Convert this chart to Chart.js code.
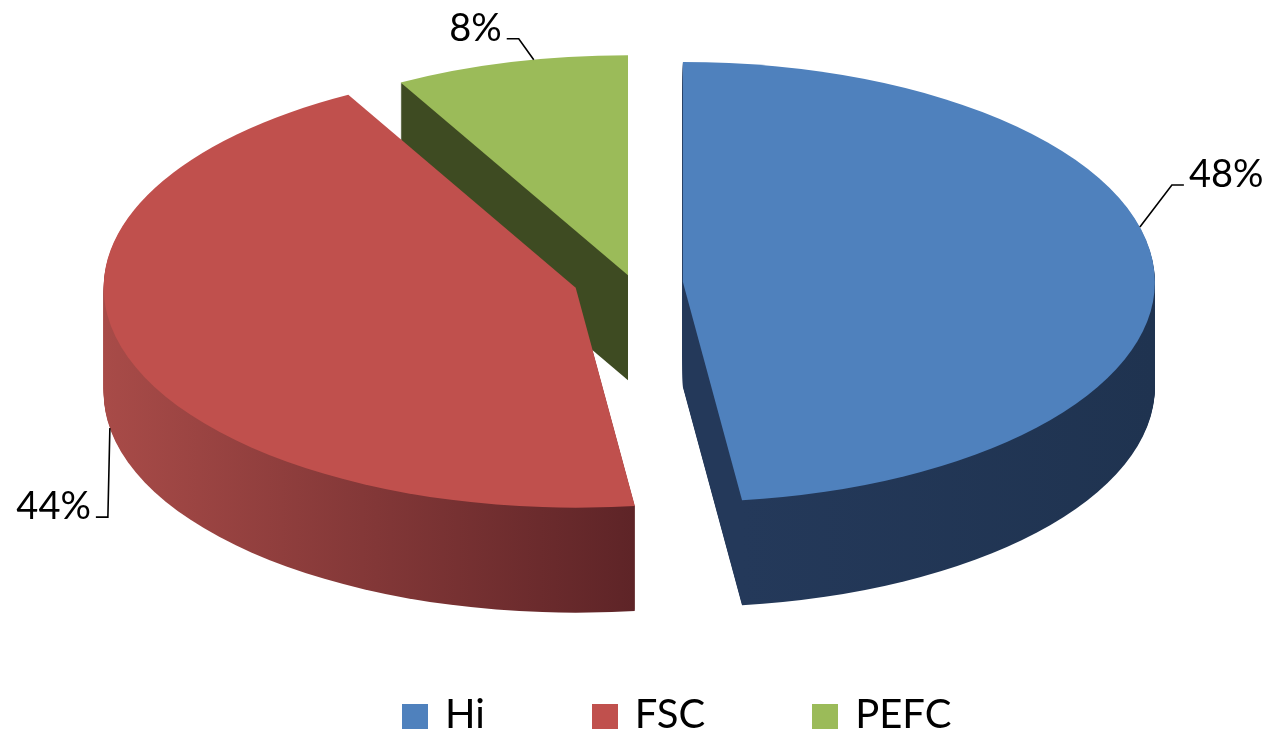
<!DOCTYPE html>
<html>
<head>
<meta charset="utf-8">
<title>Hi / FSC / PEFC</title>
<script src="https://cdn.jsdelivr.net/npm/chart.js@4.4.1/dist/chart.umd.min.js"></script>
<style>
  html, body { margin: 0; padding: 0; background: #fff; }
  #wrap { position: relative; width: 1269px; height: 733px; overflow: hidden; }
  #pieChart { position: absolute; left: 0; top: 0; }
  #legend {
    position: absolute;
    left: 402px;
    top: 689px;
    display: flex;
    align-items: center;
    font-family: Lato, "Open Sans", sans-serif;
    font-size: 40px;
    line-height: 48px;
    color: #000;
  }
  #legend .item { display: flex; align-items: center; margin-right: 107px; }
  #legend .box { width: 26px; height: 25px; margin-right: 17px; position: relative; top: 3px; }
</style>
</head>
<body>
<div id="wrap">
  <canvas id="pieChart" width="1269" height="733"></canvas>
  <div id="legend"></div>
</div>
<script>
const categories = ["Hi", "FSC", "PEFC"];
const shares = [48, 44, 8];

const topColors = ["#4f81bd", "#c0504d", "#9bbb59"];
const sideColors = [
  ["#24395a", "#1f3350"],
  ["#a84b48", "#5e2427"],
  ["#3e4b22", "#3e4b22"],
];

const $ = (id) => document.getElementById(id);

// pie drawn as a tilted, exploded 3D disc from the arc geometry chart.js computes
const pie3d = {
  id: "pie3d",
  beforeDatasetsDraw(chart, args, opts) {
    const arcs = chart.getDatasetMeta(0).data;
    if (!arcs.length) return false;
    const ctx = chart.ctx;
    const R = arcs[0].outerRadius;
    const rx = R * opts.scaleX;
    const ry = R * opts.scaleY;

    const faces = arcs.map((arc, i) => {
      const mid = (arc.startAngle + arc.endAngle) / 2;
      return {
        i,
        start: arc.startAngle,
        end: arc.endAngle,
        cx: arc.x + Math.cos(mid) * opts.explodeX[i],
        cy: arc.y + Math.sin(mid) * opts.explodeY[i],
      };
    });
    chart.$faces = { faces, rx, ry };

    const slicePath = (f, dy) => {
      ctx.beginPath();
      ctx.moveTo(f.cx, f.cy + dy);
      ctx.ellipse(f.cx, f.cy + dy, rx, ry, 0, f.start, f.end);
      ctx.closePath();
    };

    ctx.save();
    // side walls first
    faces.forEach((f) => {
      // x range of the front (visible) part of the rim
      const a0 = Math.max(f.start, 0);
      const a1 = Math.min(f.end, Math.PI);
      let x0 = f.cx, x1 = f.cx + 1;
      if (a1 > a0) {
        const xs = [Math.cos(a0), Math.cos(a1)];
        x0 = f.cx + rx * Math.min(...xs);
        x1 = f.cx + rx * Math.max(...xs);
      }
      const grad = ctx.createLinearGradient(x0, 0, x1, 0);
      grad.addColorStop(0, sideColors[f.i][0]);
      grad.addColorStop(1, sideColors[f.i][1]);
      ctx.fillStyle = grad;
      for (let dy = opts.depth; dy >= 1; dy--) {
        slicePath(f, dy);
        ctx.fill();
      }
    });
    // top faces
    faces.forEach((f) => {
      slicePath(f, 0);
      ctx.fillStyle = topColors[f.i];
      ctx.fill();
    });
    ctx.restore();
    return false;
  },
  afterDraw(chart, args, opts) {
    if (!chart.$faces) return;
    const { faces, rx, ry } = chart.$faces;
    const ctx = chart.ctx;
    ctx.save();
    ctx.strokeStyle = "#000";
    ctx.lineWidth = 1.6;
    ctx.fillStyle = "#000";
    ctx.font = opts.font;
    ctx.textBaseline = "alphabetic";
    faces.forEach((f) => {
      const lead = opts.leaders[f.i];
      const a = f.start + (f.end - f.start) * lead.frac;
      const ax = f.cx + rx * Math.cos(a);
      const ay = f.cy + ry * Math.sin(a) + opts.depth * lead.drop;
      const ex = ax + lead.dx;
      const ey = ay + lead.dy;
      const dir = ex > f.cx ? 1 : -1;
      const tx = ex + dir * 12;
      ctx.beginPath();
      ctx.moveTo(ax, ay);
      ctx.lineTo(ex, ey);
      ctx.lineTo(tx, ey);
      ctx.stroke();
      ctx.textAlign = dir > 0 ? "left" : "right";
      ctx.fillText(shares[f.i] + "%", tx + dir * 5, ey + 2);
    });
    ctx.restore();
  },
};

function buildLegend() {
  const box = $("legend");
  box.innerHTML = "";
  categories.forEach((name, i) => {
    const item = document.createElement("div");
    item.className = "item";
    const swatch = document.createElement("span");
    swatch.className = "box";
    swatch.style.background = topColors[i];
    const text = document.createElement("span");
    text.textContent = name;
    item.appendChild(swatch);
    item.appendChild(text);
    box.appendChild(item);
  });
}

new Chart($("pieChart"), {
  type: "pie",
  data: {
    labels: categories,
    datasets: [
      {
        data: shares,
        backgroundColor: topColors,
        borderWidth: 0,
      },
    ],
  },
  options: {
    responsive: false,
    animation: false,
    events: [],
    layout: { padding: { left: 0, right: 13, top: 0, bottom: 167 } },
    plugins: {
      legend: { display: false },
      tooltip: { enabled: false },
      pie3d: {
        scaleX: 472 / 283,
        scaleY: 220 / 283,
        explodeX: [55, 55, 0],
        explodeY: [15, 15, 8],
        depth: 105,
        font: '38px Lato, "Open Sans", sans-serif',
        leaders: [
          { frac: 0.437, drop: 0, dx: 32, dy: -42 },
          { frac: 0.555, drop: 1, dx: -2, dy: 89 },
          { frac: 0.6, drop: 0, dx: -15, dy: -21 },
        ],
      },
    },
  },
  plugins: [pie3d],
});

buildLegend();
</script>
</body>
</html>
